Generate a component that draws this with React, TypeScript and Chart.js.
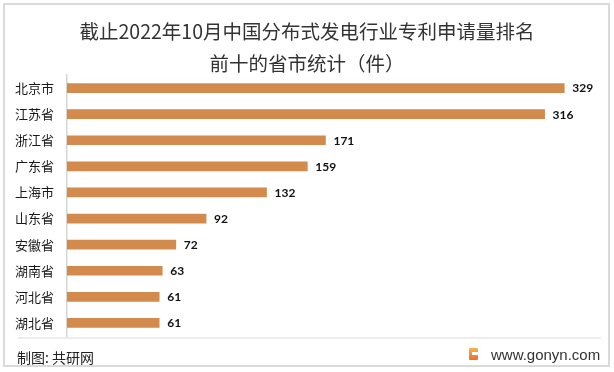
import React, { useEffect, useRef } from "react";
import { Chart, registerables } from "chart.js";

Chart.register(...registerables);

const categories = ["北京市", "江苏省", "浙江省", "广东省", "上海市", "山东省", "安徽省", "湖南省", "河北省", "湖北省"];
const values = [329, 316, 171, 159, 132, 92, 72, 63, 61, 61];
const titleLines = ["截止2022年10月中国分布式发电行业专利申请量排名", "前十的省市统计（件）"];
const sourceText = "制图: 共研网";
const siteText = "www.gonyn.com";

const valueLabelPlugin = {
  id: "valueLabels",
  afterDatasetsDraw(chart: any) {
    const { ctx } = chart;
    const meta = chart.getDatasetMeta(0);
    ctx.save();
    ctx.font = "bold 12px Lato, 'Open Sans', sans-serif";
    ctx.fillStyle = "#111";
    ctx.textAlign = "left";
    ctx.textBaseline = "middle";
    meta.data.forEach((el: any, i: number) => {
      ctx.fillText(String(chart.data.datasets[0].data[i]), el.x + 8, el.y + 0.5);
    });
    ctx.restore();
  },
};

export default function App() {
  const ref = useRef<HTMLCanvasElement>(null);
  useEffect(() => {
    if (!ref.current) return;
    const chart = new Chart(ref.current, {
      type: "bar",
      data: {
        labels: categories,
        datasets: [
          {
            data: values,
            backgroundColor: "#D38A4D",
            barThickness: 9,
          },
        ],
      },
      options: {
        indexAxis: "y",
        animation: false,
        responsive: false,
        devicePixelRatio: 1,
        layout: { padding: { top: 75, bottom: 36, right: 18, left: 0 } },
        plugins: { legend: { display: false }, tooltip: { enabled: false }, title: { display: false } },
        scales: {
          x: { display: false, min: 0, max: 350 },
          y: {
            grid: { display: false, drawTicks: false },
            border: { display: true, color: "#d6d6d6", width: 1.5 },
            ticks: {
              color: "#1a1a1a",
              padding: 13,
              font: { family: "'Noto Sans CJK SC', sans-serif", size: 13 },
            },
            afterFit(scale: any) {
              scale.width = 67;
            },
          },
        },
      },
      plugins: [valueLabelPlugin],
    } as any);
    return () => chart.destroy();
  }, []);

  return (
    <div style={{ position: "fixed", left: 0, top: 0, width: 614, height: 372, background: "#fff", overflow: "hidden" }}>
      <canvas ref={ref} width={614} height={372} style={{ position: "absolute", left: 0, top: 0 }} />
      <div
        style={{
          position: "absolute",
          left: 0,
          top: 15,
          width: 614,
          textAlign: "center",
          fontFamily: "'Noto Sans CJK SC', sans-serif",
          fontSize: 19.5,
          lineHeight: "32px",
          color: "#333",
        }}
      >
        {titleLines.map((t, i) => (
          <div key={i}>{t}</div>
        ))}
      </div>
      <div style={{ position: "absolute", left: 18, top: 337, width: 583, height: 2, background: "#ececec" }} />
      <div
        style={{
          position: "absolute",
          left: 17,
          top: 347,
          fontFamily: "'Noto Sans CJK SC', sans-serif",
          fontSize: 14,
          lineHeight: "20px",
          color: "#222",
        }}
      >
        {sourceText}
      </div>
      <div
        style={{
          position: "absolute",
          left: 469,
          top: 348,
          width: 9,
          height: 12,
          borderRadius: 1,
          background: "linear-gradient(180deg, #f9b24c, #f26a2e)",
        }}
      >
        <div style={{ position: "absolute", left: 3, top: 4, width: 6, height: 3, background: "#fff" }} />
      </div>
      <div
        style={{
          position: "absolute",
          left: 491,
          top: 345,
          fontFamily: "'Liberation Sans', Arial, sans-serif",
          fontSize: 15,
          lineHeight: "20px",
          color: "#333",
        }}
      >
        {siteText}
      </div>
      <div
        style={{
          position: "absolute",
          left: 3,
          top: 3,
          width: 607,
          height: 364,
          boxSizing: "border-box",
          border: "2px solid #dadada",
          pointerEvents: "none",
        }}
      />
    </div>
  );
}
